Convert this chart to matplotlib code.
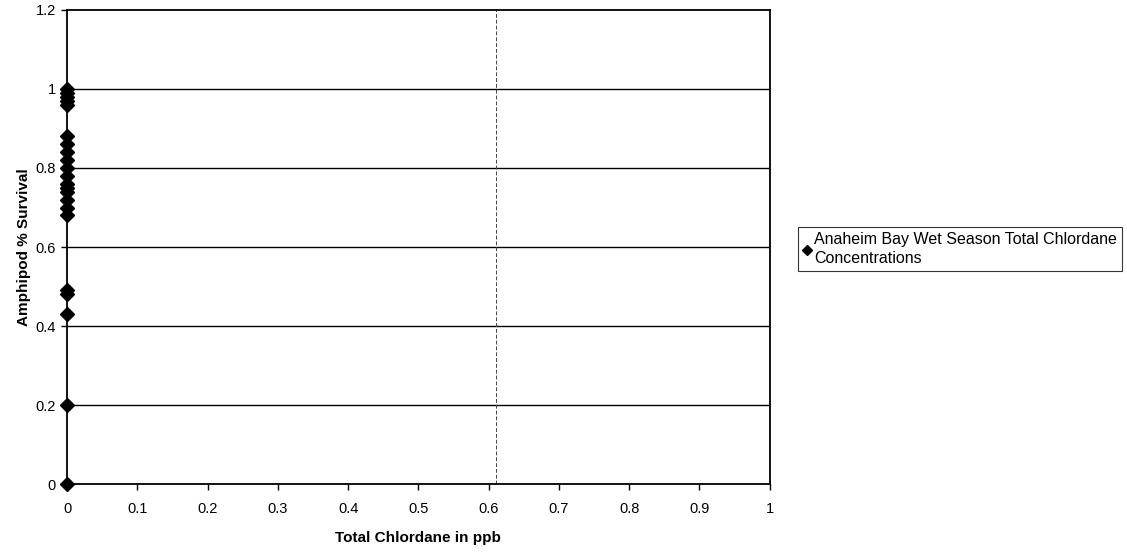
import numpy as np
import matplotlib
matplotlib.use("Agg")
import matplotlib.pyplot as plt

plt.rcParams['font.family'] = ['Liberation Sans', 'DejaVu Sans']

# Anaheim Bay wet season: all chlordane values sit at 0 ppb
chlordane = [0] * 22
survival = [1.00, 0.99, 0.98, 0.97, 0.96, 0.88, 0.86, 0.84, 0.82, 0.80,
            0.78, 0.76, 0.75, 0.74, 0.72, 0.70, 0.68, 0.49, 0.48, 0.43,
            0.20, 0.00]
series_label = "Anaheim Bay Wet Season Total Chlordane\nConcentrations"

x_ticks = np.round(np.arange(0, 1.01, 0.1), 1)
x_labels = ['0', '0.1', '0.2', '0.3', '0.4', '0.5', '0.6', '0.7', '0.8', '0.9', '1']
y_ticks = np.round(np.arange(0, 1.21, 0.2), 1)
y_labels = ['0', '0.2', '0.4', '0.6', '0.8', '1', '1.2']
vline_x = 0.61

fig = plt.figure(figsize=(11.27, 5.52), dpi=100)
ax = fig.add_axes([0.0595, 0.123, 0.6235, 0.859])

for y in y_ticks[1:-1]:
    ax.axhline(y, color='black', lw=1.0, zorder=1)
ax.axvline(vline_x, color='#444444', lw=0.7, ls=(0, (4, 2)), zorder=1)

ax.plot(chlordane, survival, ls='none', marker='D', ms=7, color='black',
        label=series_label, clip_on=False, zorder=3)

ax.set_xlim(0, 1)
ax.set_ylim(0, 1.2)
ax.set_xticks(x_ticks)
ax.set_xticklabels(x_labels)
ax.set_yticks(y_ticks)
ax.set_yticklabels(y_labels)
ax.tick_params(axis='both', labelsize=10.5, direction='out', length=4,
               width=1, color='black')
ax.tick_params(axis='x', pad=9)
ax.tick_params(axis='y', pad=4)
for s in ax.spines.values():
    s.set_linewidth(1.3)
    s.set_color('black')

ax.set_xlabel('Total Chlordane in ppb', fontsize=11, fontweight='bold',
              labelpad=11)
ax.set_ylabel('Amphipod % Survival', fontsize=11, fontweight='bold',
              labelpad=3)

leg = fig.legend(loc='upper left', bbox_to_anchor=(0.708, 0.588),
                 fontsize=11.5, frameon=True, fancybox=False, handlelength=0.5,
                 handletextpad=0.2, borderpad=0.3, markerscale=0.75,
                 borderaxespad=0)
for t in leg.get_texts():
    t.set_linespacing(1.35)
leg.get_frame().set_edgecolor('black')
leg.get_frame().set_linewidth(0.8)

fig.savefig('out.png', dpi=100)
